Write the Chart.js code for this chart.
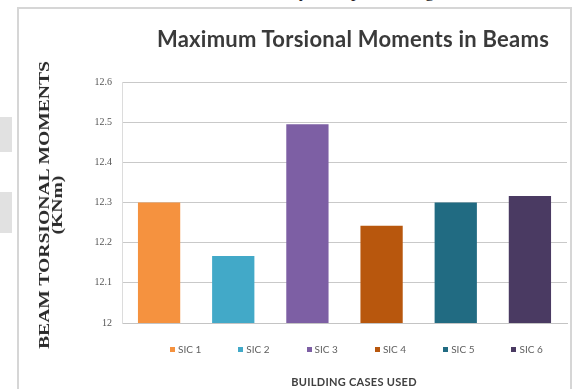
<!DOCTYPE html>
<html>
<head>
<meta charset="utf-8">
<script src="https://cdn.jsdelivr.net/npm/chart.js@4/dist/chart.umd.min.js"></script>
<style>
  html, body { margin: 0; padding: 0; background: #fff; }
  #stage { position: relative; width: 580px; height: 389px; overflow: hidden; background: #fff; }
  #frame { position: absolute; left: 17px; top: 7px; width: 555px; height: 400px; border: 2px solid #d6d6d6; box-sizing: border-box; }
  #chart { position: absolute; left: 0; top: 0; }
  .pageText { position: absolute; top: -19px; font: 18px "Liberation Serif", serif; color: #222; }
  .margin { position: absolute; left: 0; width: 12px; background: #e1e1e1; }
  #title { position: absolute; left: 0; width: 706px; top: 25px; text-align: center; font: bold 22px Lato, sans-serif; letter-spacing: 0.25px; color: #3a3a3a; }
  #yTitle { position: absolute; left: 51px; top: 205px; width: 0; height: 0; }
  #yTitle div { position: absolute; left: 0; top: 0; transform: translate(-50%, -50%) rotate(-90deg) scaleX(1.4); white-space: nowrap; text-align: center; font: bold 14px/13px "Liberation Serif", serif; color: #2b2b2b; }
  #xTitle { position: absolute; left: 0; width: 708px; top: 375px; text-align: center; font: bold 11px Lato, sans-serif; letter-spacing: 0.3px; color: #404040; }
  #legend { position: absolute; left: 170px; top: 343px; display: flex; }
  #legend .item { width: 68.3px; display: flex; align-items: center; font: 10px Lato, sans-serif; color: #606060; }
  #legend .swatch { width: 5px; height: 5px; margin-right: 3px; }
</style>
</head>
<body>
<div id="stage">
  <span class="pageText" style="left:299px">y</span>
  <span class="pageText" style="left:351px">p</span>
  <span class="pageText" style="left:425px">g</span>
  <div class="margin" style="top:117px;height:35px"></div>
  <div class="margin" style="top:192px;height:41px"></div>
  <div id="frame"></div>
  <canvas id="chart" width="580" height="389"></canvas>
  <div id="title">Maximum Torsional Moments in Beams</div>
  <div id="yTitle"><div>BEAM TORSIONAL MOMENTS<br>(KNm)</div></div>
  <div id="xTitle">BUILDING CASES USED</div>
  <div id="legend"></div>
</div>
<script>
// Building cases and their maximum beam torsional moments (kN·m)
const categories = ['SIC 1', 'SIC 2', 'SIC 3', 'SIC 4', 'SIC 5', 'SIC 6'];
const moments = [12.30, 12.167, 12.495, 12.242, 12.30, 12.316];
const barColors = ['#F5923F', '#42A9C8', '#7D5FA4', '#B8570D', '#216B82', '#4A3A62'];

// Value axis range and tick step
const yMin = 12.0;
const yMax = 12.6;
const yStep = 0.1;

// Legend: one swatch per building case
const legend = document.getElementById('legend');
categories.forEach((name, i) => {
  const item = document.createElement('div');
  item.className = 'item';
  const sw = document.createElement('span');
  sw.className = 'swatch';
  sw.style.background = barColors[i];
  const label = document.createElement('span');
  label.textContent = name;
  item.appendChild(sw);
  item.appendChild(label);
  legend.appendChild(item);
});

new Chart(document.getElementById('chart'), {
  type: 'bar',
  data: {
    labels: categories,
    datasets: [{
      data: moments,
      backgroundColor: barColors,
      borderWidth: 0,
      categoryPercentage: 1.0,
      barPercentage: 0.57
    }]
  },
  options: {
    responsive: false,
    devicePixelRatio: 1,
    animation: false,
    layout: { padding: { left: 0, top: 82, right: 13, bottom: 66 } },
    plugins: {
      legend: { display: false },
      title: { display: false },
      tooltip: { enabled: false }
    },
    scales: {
      x: {
        ticks: { display: false },
        grid: { display: false, drawTicks: false },
        border: { display: true, color: '#c4c4c4', width: 1 },
        afterFit: (scale) => { scale.height = 0; }
      },
      y: {
        min: yMin,
        max: yMax,
        ticks: {
          stepSize: yStep,
          padding: 10,
          color: '#555',
          font: { family: '"Liberation Serif", serif', size: 10 },
          callback: (v) => String(Number(v.toFixed(1)))
        },
        grid: { color: '#c9c9c9', lineWidth: 1, drawTicks: false },
        border: { display: true, color: '#dcdcdc', width: 1 },
        afterFit: (scale) => { scale.width = 122; }
      }
    }
  }
});
</script>
</body>
</html>
